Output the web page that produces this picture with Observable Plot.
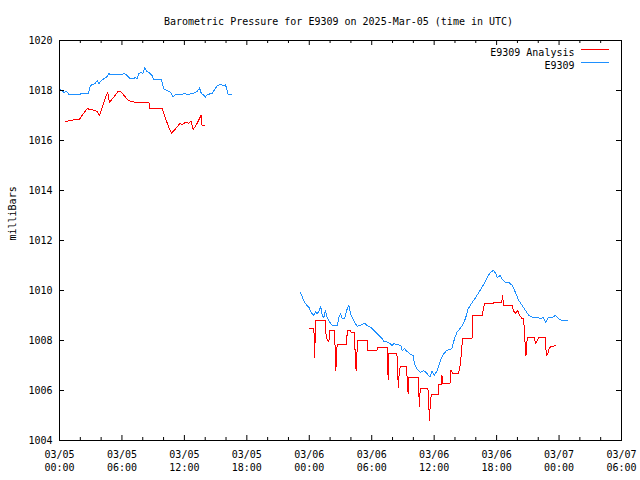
<!DOCTYPE html>
<html>
<head>
<meta charset="utf-8">
<script src="https://cdn.jsdelivr.net/npm/d3@7"></script>
<script src="https://cdn.jsdelivr.net/npm/@observablehq/plot@0.6"></script>
<style>
  html, body { margin: 0; padding: 0; background: #fff; }
</style>
</head>
<body>
<div id="chart"></div>
<script>
// ---- Data: [hours since 2025-03-05 00:00 UTC, pressure mb] ----
const titleText = "Barometric Pressure for E9309 on 2025-Mar-05 (time in UTC)";
const yLabel = "milliBars";
const seriesNames = ["E9309 Analysis", "E9309"];
const seriesColors = ["#ff0000", "#1e90ff"];

const stationSeg1 = [
  [0.0,1018.03],[0.3,1018.0],[0.4,1017.9],[0.67,1017.97],[0.9,1017.85],[2.0,1017.85],[2.1,1017.9],[2.8,1017.9],
  [2.9,1018.13],[3.1,1018.24],[3.39,1018.27],[3.62,1018.4],[3.78,1018.27],[3.94,1018.37],[4.26,1018.47],[4.58,1018.56],
  [4.74,1018.69],[4.9,1018.63],[6.0,1018.63],[6.2,1018.69],[6.5,1018.6],[6.8,1018.47],[7.14,1018.47],[7.3,1018.53],
  [7.46,1018.47],[7.6,1018.67],[7.88,1018.73],[8.0,1018.67],[8.2,1018.91],[8.4,1018.77],[8.74,1018.67],[8.9,1018.6],
  [9.06,1018.44],[9.8,1018.44],[10.02,1018.07],[10.35,1018.0],[10.67,1017.93],[10.9,1017.73],[11.15,1017.83],[11.8,1017.83],
  [11.95,1017.9],[12.27,1017.83],[12.6,1017.87],[12.9,1017.9],[13.23,1017.97],[13.45,1018.1],[13.64,1017.87],[13.9,1017.8],
  [14.0,1017.73],[14.2,1017.83],[14.7,1017.9],[14.9,1018.03],[15.15,1018.2],[15.47,1018.24],[15.8,1018.2],[15.95,1018.24],
  [16.1,1018.0],[16.2,1017.84],[16.5,1017.84]
];
const stationSeg2 = [
  [23.16,1009.91],[23.4,1009.67],[23.64,1009.47],[23.96,1009.33],[24.2,1009.11],[24.44,1009.0],[24.6,1009.16],[24.76,1009.07],
  [24.92,1009.16],[25.1,1009.36],[25.24,1009.0],[25.4,1008.93],[25.56,1009.2],[25.72,1008.93],[25.97,1008.73],[26.2,1008.6],
  [26.7,1008.6],[26.84,1008.93],[27.0,1009.07],[27.16,1008.89],[27.4,1008.87],[27.58,1009.2],[27.8,1009.4],[27.96,1009.07],
  [28.2,1008.87],[28.44,1008.67],[28.6,1008.57],[28.92,1008.6],[29.3,1008.69],[29.57,1008.6],[29.9,1008.53],[30.2,1008.4],
  [30.53,1008.27],[30.7,1008.2],[31.0,1008.07],[31.16,1007.97],[31.6,1007.93],[31.97,1007.8],[32.1,1007.87],[32.8,1007.8],
  [32.93,1007.6],[33.15,1007.67],[33.4,1007.56],[33.66,1007.47],[34.0,1007.4],[34.1,1007.07],[34.4,1006.83],[34.69,1006.73],
  [35.0,1006.8],[35.33,1006.67],[35.6,1006.53],[35.8,1006.77],[36.0,1006.6],[36.3,1006.8],[36.55,1007.13],[36.8,1007.4],
  [37.2,1007.6],[37.7,1007.67],[37.95,1008.07],[38.2,1008.33],[38.7,1008.6],[39.0,1008.87],[39.27,1009.27],[39.66,1009.53],
  [40.0,1009.73],[40.4,1010.0],[40.8,1010.27],[41.1,1010.53],[41.4,1010.73],[41.7,1010.8],[41.9,1010.69],[42.06,1010.53],
  [42.38,1010.6],[42.5,1010.47],[42.86,1010.33],[43.18,1010.33],[43.5,1010.2],[43.8,1009.93],[44.13,1009.6],[44.46,1009.4],
  [44.78,1009.2],[45.1,1009.0],[45.42,1008.93],[45.9,1008.93],[46.2,1008.87],[46.5,1008.93],[46.7,1008.73],[47.0,1008.93],
  [47.34,1008.93],[47.66,1009.0],[47.98,1008.87],[48.3,1008.8],[48.8,1008.8]
];
const analysisSeg1 = [
  [0.58,1016.76],[1.06,1016.8],[1.47,1016.83],[1.9,1016.84],[2.33,1017.09],[2.66,1017.27],[3.14,1017.23],[3.6,1017.17],
  [3.84,1017.0],[4.1,1017.33],[4.42,1017.73],[4.64,1017.91],[4.8,1017.53],[5.2,1017.73],[5.64,1017.97],[5.86,1017.97],
  [6.2,1017.8],[6.6,1017.6],[6.98,1017.56],[7.46,1017.51],[8.6,1017.51],[8.68,1017.27],[9.87,1017.27],[10.2,1016.87],
  [10.5,1016.53],[10.76,1016.29],[11.15,1016.47],[11.6,1016.69],[11.8,1016.63],[12.1,1016.73],[12.43,1016.69],[12.65,1016.77],
  [12.85,1016.44],[13.23,1016.69],[13.6,1017.0],[13.7,1016.6],[13.9,1016.6]
];
const analysisSeg2 = [
  [24.05,1008.47],[24.45,1008.47],[24.47,1007.93],[24.52,1007.33],[24.6,1008.8],[25.56,1008.8],[25.62,1008.13],[25.75,1008.0],
  [25.88,1007.95],[25.97,1008.4],[26.45,1008.4],[26.48,1007.6],[26.55,1006.8],[26.62,1007.33],[26.68,1007.84],[27.6,1007.84],
  [27.64,1008.4],[27.96,1008.4],[28.02,1008.33],[28.3,1008.33],[28.4,1007.6],[28.5,1006.8],[28.56,1007.36],[28.66,1008.0],
  [29.6,1008.0],[29.64,1007.6],[30.5,1007.6],[30.56,1007.73],[31.49,1007.73],[31.53,1007.1],[31.58,1006.43],[31.65,1007.47],
  [32.42,1007.47],[32.48,1006.87],[32.56,1006.1],[32.65,1006.8],[32.75,1006.97],[33.3,1006.97],[33.36,1006.8],[33.44,1006.2],
  [33.5,1005.87],[33.58,1006.53],[34.45,1006.53],[34.52,1006.0],[34.58,1005.36],[34.66,1006.1],[35.4,1006.1],[35.48,1005.44],
  [35.55,1004.8],[35.62,1005.44],[35.72,1005.84],[36.4,1005.84],[36.46,1006.24],[36.72,1006.24],[36.75,1006.6],[36.8,1006.3],
  [37.55,1006.3],[37.62,1006.83],[37.82,1006.67],[38.3,1006.67],[38.45,1006.87],[38.62,1007.47],[38.72,1008.1],[39.66,1008.1],
  [39.7,1009.0],[40.6,1009.0],[40.7,1009.2],[40.84,1009.47],[41.67,1009.47],[41.75,1009.53],[42.5,1009.53],[42.55,1009.8],
  [42.7,1009.4],[43.5,1009.4],[43.6,1009.2],[43.82,1009.09],[44.03,1009.2],[44.2,1009.0],[44.46,1008.87],[44.6,1008.87],
  [44.66,1008.4],[44.75,1007.8],[44.82,1007.4],[44.88,1007.8],[44.95,1008.13],[45.6,1008.13],[45.68,1008.0],[45.75,1007.89],
  [45.9,1008.0],[46.05,1008.13],[46.7,1008.13],[46.76,1007.5],[46.8,1007.4],[46.92,1007.49],[47.1,1007.73],[47.66,1007.8]
];
const yTickValues = [1004,1006,1008,1010,1012,1014,1016,1018,1020];

// ---- Build ----
const base = Date.UTC(2025, 2, 5);
const toRows = (segs) => segs.flatMap((seg, i) => seg.map(([h, v]) => ({t: new Date(base + h * 3600e3), v, seg: i})));
const stationRows = toRows([stationSeg1, stationSeg2]);
const analysisRows = toRows([analysisSeg1, analysisSeg2]);

const W = 640, H = 480, ML = 59, MR = 19, MT = 40, MB = 40;
const PW = W - ML - MR, PH = H - MT - MB;
const xStart = new Date(base), xEnd = new Date(Date.UTC(2025, 2, 7, 6));
const majorTicks = d3.utcHour.every(6).range(xStart, new Date(+xEnd + 1));
const minorTicks = d3.utcHour.every(2).range(xStart, new Date(+xEnd + 1)).filter(d => d.getUTCHours() % 6 !== 0);
const fmt = d3.utcFormat("%m/%d");
const fmt2 = d3.utcFormat("%H:%M");

const chart = Plot.plot({
  width: W, height: H,
  marginLeft: ML, marginRight: MR, marginTop: MT, marginBottom: MB,
  style: {fontFamily: "'DejaVu Sans Mono', monospace", fontSize: "10px", background: "#fff", color: "#000"},
  x: {type: "utc", domain: [xStart, xEnd], axis: null},
  y: {domain: [1004, 1020], axis: null},
  marks: [
    Plot.line(analysisRows, {x: "t", y: "v", z: "seg", stroke: seriesColors[0], strokeWidth: 1}),
    Plot.line(stationRows, {x: "t", y: "v", z: "seg", stroke: seriesColors[1], strokeWidth: 1}),
    Plot.frame({stroke: "#000"}),
    Plot.tickX(majorTicks, {x: d => d, insetTop: PH - 5, stroke: "#000"}),
    Plot.tickX(majorTicks, {x: d => d, insetBottom: PH - 5, stroke: "#000"}),
    Plot.tickX(minorTicks, {x: d => d, insetTop: PH - 3, stroke: "#000"}),
    Plot.tickX(minorTicks, {x: d => d, insetBottom: PH - 3, stroke: "#000"}),
    Plot.tickY(yTickValues, {y: d => d, insetRight: PW - 5, stroke: "#000"}),
    Plot.tickY(yTickValues, {y: d => d, insetLeft: PW - 5, stroke: "#000"}),
    Plot.axisX({ticks: majorTicks, tickSize: 0, tickPadding: 8, lineHeight: 1.3,
      tickFormat: d => fmt(d) + "\n" + fmt2(d), label: null, fill: "#000"}),
    Plot.axisY({ticks: yTickValues, tickSize: 0, tickPadding: 7, tickFormat: d => String(d), label: null, fill: "#000"}),
    Plot.text([titleText], {frameAnchor: "top", dy: -22.5, dx: -2, fill: "#000"}),
    Plot.text([yLabel], {frameAnchor: "left", rotate: -90, dx: -47, fill: "#000"}),
    Plot.text([seriesNames[0]], {frameAnchor: "top-right", textAnchor: "end", dx: -47, dy: 8, fill: "#000"}),
    Plot.text([seriesNames[1]], {frameAnchor: "top-right", textAnchor: "end", dx: -47, dy: 21, fill: "#000"})
  ]
});

// legend line samples
const svg = d3.select(chart);
const lx2 = W - MR - 12, lx1 = lx2 - 28;
[[MT + 9.5, seriesColors[0]], [MT + 22.5, seriesColors[1]]].forEach(([yy, c]) => {
  svg.append("line").attr("x1", lx1).attr("x2", lx2).attr("y1", yy).attr("y2", yy)
    .attr("stroke", c).attr("stroke-width", 1);
});
svg.selectAll('g[aria-label="line"] path').attr("shape-rendering", "crispEdges");
document.getElementById("chart").appendChild(chart);
</script>
</body>
</html>
